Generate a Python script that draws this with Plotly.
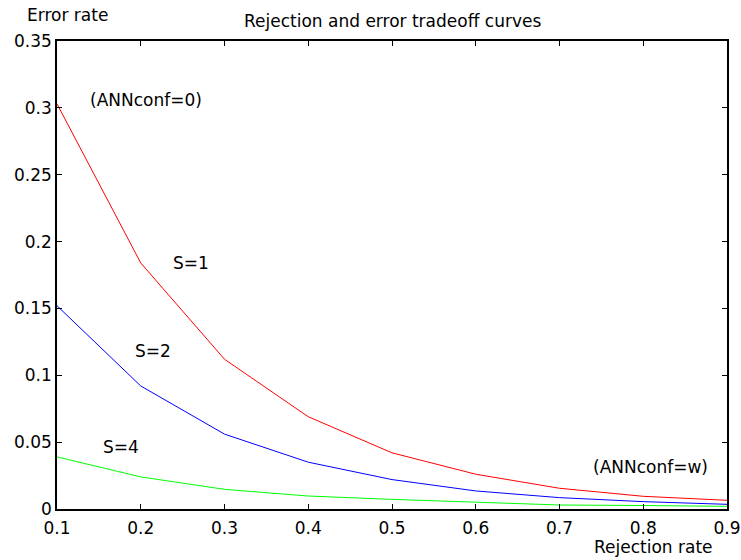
import plotly.graph_objects as go

rejection = [0.1, 0.2, 0.3, 0.4, 0.5, 0.6, 0.7, 0.8, 0.9]
err_s1 = [0.303, 0.184, 0.112, 0.069, 0.042, 0.026, 0.0155, 0.0095, 0.0065]
err_s2 = [0.152, 0.092, 0.056, 0.035, 0.022, 0.0135, 0.0085, 0.0055, 0.0035]
err_s4 = [0.039, 0.024, 0.0147, 0.0097, 0.0072, 0.005, 0.003, 0.0026, 0.002]

x_ticks = [0.1, 0.2, 0.3, 0.4, 0.5, 0.6, 0.7, 0.8, 0.9]
x_labels = ["0.1", "0.2", "0.3", "0.4", "0.5", "0.6", "0.7", "0.8", "0.9"]
y_ticks = [0, 0.05, 0.1, 0.15, 0.2, 0.25, 0.3, 0.35]
y_labels = ["0", "0.05", "0.1", "0.15", "0.2", "0.25", "0.3", "0.35"]

FONT = "DejaVu Sans, sans-serif"
FS = 17

fig = go.Figure()
fig.add_trace(go.Scatter(x=rejection, y=err_s1, mode="lines", line=dict(color="#ff0000", width=1), name="S=1"))
fig.add_trace(go.Scatter(x=rejection, y=err_s2, mode="lines", line=dict(color="#0000ff", width=1), name="S=2"))
fig.add_trace(go.Scatter(x=rejection, y=err_s4, mode="lines", line=dict(color="#00ff00", width=1), name="S=4"))

data_labels = [
    ("(ANNconf=0)", 0.2064, 0.306),
    ("S=1", 0.2605, 0.184),
    ("S=2", 0.2142, 0.118),
    ("S=4", 0.1765, 0.046),
    ("(ANNconf=w)", 0.809, 0.0314),
]
annotations = []
for txt, ax, ay in data_labels:
    annotations.append(dict(text=txt, x=ax, y=ay, xref="x", yref="y", showarrow=False,
                            xanchor="center", yanchor="middle",
                            font=dict(family=FONT, size=FS, color="black")))

annotations.append(dict(text="Rejection and error tradeoff curves", x=0.5, y=1.043, xref="paper", yref="paper",
                        xanchor="center", yanchor="middle",
                        showarrow=False, font=dict(family=FONT, size=FS, color="black")))
annotations.append(dict(text="Error rate", x=-0.048, y=1.056, xref="paper", yref="paper",
                        xanchor="left", yanchor="middle",
                        showarrow=False, font=dict(family=FONT, size=FS, color="black")))
annotations.append(dict(text="Rejection rate", x=0.891, y=-0.081, xref="paper", yref="paper",
                        xanchor="center", yanchor="middle",
                        showarrow=False, font=dict(family=FONT, size=FS, color="black")))

fig.update_layout(
    width=741, height=560,
    margin=dict(l=57, r=14, t=41, b=51),
    plot_bgcolor="white", paper_bgcolor="white",
    showlegend=False,
    font=dict(family=FONT, size=FS, color="black"),
    annotations=annotations,
    xaxis=dict(range=[0.1, 0.9], tickvals=x_ticks, ticktext=x_labels, ticks="inside", ticklen=5,
               tickcolor="black", tickwidth=1, showline=True, linecolor="black", linewidth=1.5, mirror="ticks",
               showgrid=False, zeroline=False, tickfont=dict(size=FS), automargin=False,
               ticklabelstandoff=3),
    yaxis=dict(range=[0, 0.35], tickvals=y_ticks, ticktext=y_labels, ticks="inside", ticklen=5,
               tickcolor="black", tickwidth=1, showline=True, linecolor="black", linewidth=1.5, mirror="ticks",
               showgrid=False, zeroline=False, tickfont=dict(size=FS), automargin=False),
)

fig.write_html("out.html")
